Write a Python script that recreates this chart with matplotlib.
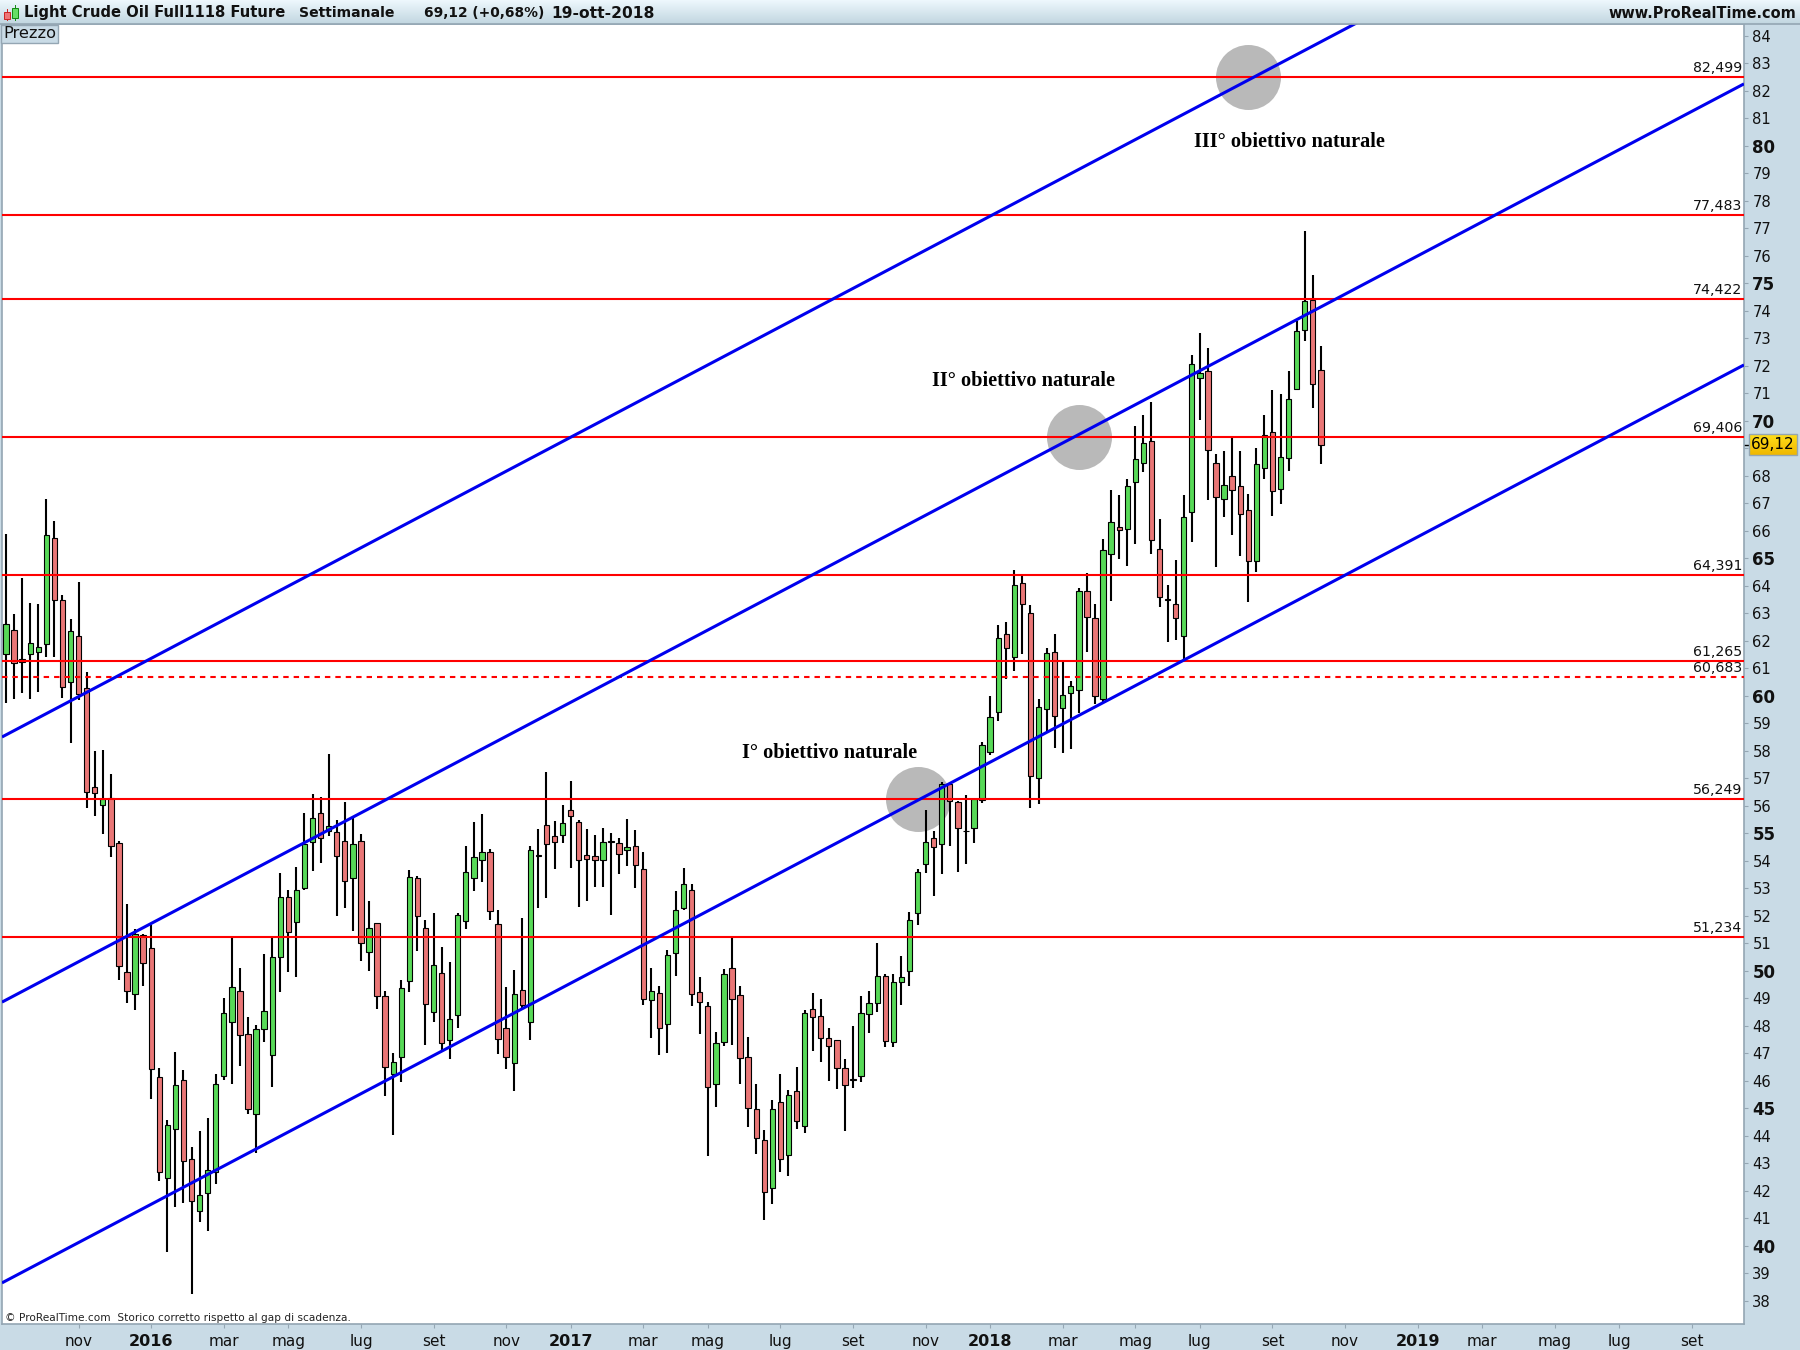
import numpy as np
import matplotlib
matplotlib.use("Agg")
import matplotlib.pyplot as plt
from matplotlib.patches import Rectangle

opens = [61.53,62.38,61.32,61.51,61.58,61.87,65.72,63.47,60.49,62.16,
60.27,56.67,56.02,56.30,54.63,49.94,49.15,51.29,50.84,46.15,
42.45,44.24,46.02,43.16,41.28,41.91,42.67,46.17,48.12,49.25,
47.71,44.78,47.90,46.92,50.49,52.67,51.77,53.02,54.67,55.72,
55.08,55.03,54.71,53.39,54.71,50.67,51.73,49.07,46.23,46.85,
49.62,53.36,51.54,48.49,49.91,47.47,48.38,51.80,53.36,54.02,
54.31,51.69,47.91,46.63,49.29,48.12,54.20,55.29,54.89,54.92,
55.83,55.40,54.20,54.16,54.01,54.71,54.63,54.38,54.52,53.69,
48.92,49.18,48.05,50.63,52.27,52.92,49.22,48.71,45.87,47.40,
50.09,49.11,46.85,44.96,43.83,42.09,45.22,43.29,45.62,44.34,
48.60,48.34,47.54,47.47,46.45,46.05,46.16,48.42,48.82,49.80,
47.40,49.58,49.98,52.09,53.90,54.82,54.60,56.78,56.12,55.10,
55.18,56.21,57.97,59.40,62.23,61.40,64.09,63.00,57.00,59.51,
61.58,59.54,60.09,60.20,63.80,62.82,59.90,65.14,66.12,66.05,
67.76,68.45,69.25,65.32,63.51,63.32,62.16,66.67,71.54,71.80,
68.45,67.14,67.98,67.62,66.74,64.89,68.27,69.58,67.51,68.63,
71.14,73.29,74.38,71.83]

closes = [62.60,61.18,61.22,61.91,61.76,65.83,63.47,60.33,62.34,60.05,
56.49,56.45,56.23,54.52,50.16,49.25,51.35,50.27,46.42,42.67,
44.38,45.83,43.07,41.62,41.83,42.74,45.87,48.45,49.40,47.66,
44.99,47.90,48.52,50.49,52.67,51.40,52.95,54.60,55.55,54.82,
55.25,54.16,53.25,54.60,51.00,51.54,49.07,46.49,46.67,49.36,
53.40,51.98,48.78,50.20,47.36,48.23,52.01,53.58,54.12,54.31,
52.16,47.51,46.85,49.14,48.77,54.38,54.16,54.60,54.67,55.36,
55.62,54.01,54.05,54.01,54.67,54.68,54.23,54.49,53.83,48.96,
49.25,47.91,50.56,52.20,53.14,49.14,48.85,45.76,47.36,49.87,
48.96,46.82,45.00,43.91,41.94,44.96,43.14,45.47,44.52,48.45,
48.31,47.54,47.25,46.45,45.85,46.02,48.45,48.82,49.80,47.43,
49.58,49.76,51.83,53.58,54.67,54.49,56.78,56.17,55.18,55.07,
56.25,58.20,59.22,62.09,61.72,64.02,63.32,57.07,59.58,61.54,
59.25,60.02,60.34,63.80,62.85,59.98,65.29,66.31,66.02,67.62,
68.60,69.18,65.65,63.58,63.47,62.82,66.49,72.05,71.72,68.92,
67.21,67.65,67.47,66.60,64.89,68.42,69.47,67.43,68.67,70.78,
73.25,74.34,71.32,69.12]

highs = [65.88,62.97,64.28,63.37,63.34,67.15,66.35,63.66,62.79,64.14,
60.86,57.99,58.03,57.15,54.71,52.43,51.53,51.34,51.66,46.46,
44.58,47.04,46.39,43.59,44.16,44.65,46.24,49.01,51.21,50.10,
48.32,48.03,50.61,51.21,53.55,52.93,53.77,55.73,56.41,56.32,
57.88,55.48,56.12,55.56,54.97,52.54,51.73,49.25,47.01,49.66,
53.66,53.45,51.85,52.10,50.86,50.32,52.09,54.54,55.41,55.70,
54.43,52.21,49.41,50.03,51.92,54.54,55.15,57.23,55.45,56.03,
56.90,55.47,55.15,54.94,55.18,55.00,54.82,55.52,55.12,54.31,
50.10,49.43,50.74,52.90,53.74,53.15,49.77,48.86,47.77,50.05,
51.20,49.45,47.59,45.88,44.21,45.30,46.25,45.66,46.50,48.57,
49.19,48.97,47.92,47.50,46.79,47.99,49.08,49.26,51.01,49.88,
49.88,50.54,52.14,53.70,55.85,55.08,56.86,56.82,56.17,56.39,
56.28,58.32,59.99,62.57,62.68,64.57,64.35,63.30,59.88,61.74,
62.25,61.23,60.54,63.92,64.46,63.34,65.70,67.48,67.30,67.88,
69.81,70.21,70.68,66.43,64.03,64.94,67.30,72.39,73.19,72.65,
68.79,68.90,69.37,68.90,67.34,69.01,70.21,71.12,70.97,71.81,
73.63,76.90,75.30,72.72]

lows = [59.75,59.89,60.11,59.89,60.15,61.42,61.42,59.93,58.29,59.86,
55.93,55.64,54.96,54.12,49.67,48.81,48.58,49.46,45.32,42.37,
39.76,41.42,41.57,38.23,40.88,40.52,42.26,46.04,45.89,46.52,
44.80,43.39,47.42,45.79,49.24,49.96,49.79,52.92,53.61,53.93,
54.90,52.00,52.29,51.43,50.36,50.00,48.62,45.43,44.04,45.97,
49.24,50.73,47.31,48.15,47.12,46.80,47.93,51.53,52.91,53.24,
51.86,46.98,46.44,45.64,48.57,47.49,52.29,52.66,53.71,54.66,
53.75,52.33,52.55,53.06,53.06,52.04,53.53,53.82,53.02,48.77,
47.57,46.95,47.02,49.82,52.22,48.73,47.71,43.28,45.06,47.28,
47.31,45.89,44.33,43.35,40.95,41.53,42.69,42.55,44.26,44.11,
47.09,46.69,46.00,45.70,44.17,45.74,45.95,47.75,48.51,47.24,
47.24,48.75,49.45,51.68,53.55,52.72,53.52,54.54,53.59,53.88,
54.65,56.09,57.86,59.09,60.62,60.91,61.52,55.93,56.08,58.69,
58.11,57.93,58.08,59.36,61.60,59.70,59.72,63.46,64.99,64.73,
65.53,68.15,65.17,63.24,61.97,62.04,61.30,65.60,70.03,67.13,
64.70,66.51,65.86,65.09,63.40,64.51,67.89,66.55,66.98,68.18,
71.14,72.91,70.48,68.44]

levels = [82.499, 77.483, 74.422, 69.406, 64.391, 61.265, 56.249, 51.234]
level_labels = ["82,499", "77,483", "74,422", "69,406", "64,391", "61,265", "56,249", "51,234"]
dashed_level = 60.683
dashed_label = "60,683"

channel_x = [-0.5, 215.45]
channel_top = [58.50, 91.89]
channel_mid = [48.86, 82.25]
channel_low = [38.65, 72.03]

circle_x = [113.1, 133, 154]
circle_y = [56.249, 69.406, 82.499]

note_text = ["I° obiettivo naturale", "II° obiettivo naturale", "III° obiettivo naturale"]
note_x = [91.2, 114.85, 147.25]
note_y = [57.92, 71.45, 80.15]

x_tick_pos = [9, 18, 27, 35, 44, 53, 62, 70, 79, 87, 96, 105, 114, 122, 131, 140, 148, 157, 166, 175, 183, 192, 200, 209]
x_tick_lab = ["nov", "2016", "mar", "mag", "lug", "set", "nov", "2017", "mar", "mag", "lug", "set", "nov", "2018",
              "mar", "mag", "lug", "set", "nov", "2019", "mar", "mag", "lug", "set"]
y_ticks = list(range(38, 85))

W, H = 1800, 1350
BAND = "#c9dbe6"
EDGE = "#94a6b3"

fig = plt.figure(figsize=(18, 13.5), dpi=100, facecolor=BAND)
L, R, T, B = 2, 1744, 24, 1324
ax = fig.add_axes([L / W, 1 - B / H, (R - L) / W, (B - T) / H], facecolor="white")
ax.set_xlim(-0.496, 215.45)
ax.set_ylim(37.155, 84.427)

# gray target circles
ax.scatter(circle_x, circle_y, s=2190, color="#b9b9b9", linewidths=0, zorder=1)

# candles
x = np.arange(len(opens))
o, c, hi, lo = map(np.array, (opens, closes, highs, lows))
ax.vlines(x, lo, hi, color="black", lw=1.5, zorder=2)
up = c >= o
bottoms = np.minimum(o, c)
heights = np.abs(c - o)
ax.bar(x[up], heights[up], 0.66, bottoms[up], color="#57d957", edgecolor="black", linewidth=0.8, zorder=3)
ax.bar(x[~up], heights[~up], 0.66, bottoms[~up], color="#e97676", edgecolor="black", linewidth=0.8, zorder=3)

# levels and channel
for lv, lb in zip(levels, level_labels):
    ax.axhline(lv, color="#ff0000", lw=1.5, zorder=4)
    ax.annotate(lb, (1, lv), xycoords=("axes fraction", "data"), xytext=(-1, 1.4), textcoords="offset points",
                ha="right", va="bottom", fontsize=10.2, color="#111111", zorder=6)
ax.axhline(dashed_level, color="#ff0000", lw=1.5, linestyle=(0, (2.6, 2.4)), zorder=4)
ax.annotate(dashed_label, (1, dashed_level), xycoords=("axes fraction", "data"), xytext=(-1, 1.4),
            textcoords="offset points", ha="right", va="bottom", fontsize=10.2, color="#111111", zorder=6)
for ys in (channel_top, channel_mid, channel_low):
    ax.plot(channel_x, ys, color="#0000ee", lw=2.2, zorder=5, solid_capstyle="butt")

for s, nx, ny in zip(note_text, note_x, note_y):
    ax.text(nx, ny, s, family="Liberation Serif", fontweight="bold", fontsize=14.6, ha="left", va="center", zorder=6)

ax.text(3 / (R - L), 6 / (B - T), "© ProRealTime.com  Storico corretto rispetto al gap di scadenza.",
        transform=ax.transAxes, fontsize=7.6, ha="left", va="center", color="#222222", zorder=6)

# axes ticks
ax.yaxis.tick_right()
ax.set_yticks(y_ticks)
ax.set_yticklabels(["" if v == 69 else str(v) for v in y_ticks])
for v, t in zip(y_ticks, ax.get_yticklabels()):
    if v % 5 == 0:
        t.set_fontweight("bold")
        t.set_fontsize(12)
    else:
        t.set_fontsize(10.6)
ax.set_xticks(x_tick_pos)
ax.set_xticklabels(x_tick_lab)
for s, t in zip(x_tick_lab, ax.get_xticklabels()):
    if s.isdigit():
        t.set_fontweight("bold")
        t.set_fontsize(11.5)
    else:
        t.set_fontsize(11)
ax.tick_params(axis="y", length=3, width=0.8, color=EDGE, pad=3, labelcolor="#111111")
ax.tick_params(axis="x", length=3, width=0.8, color=EDGE, pad=4, labelcolor="#111111")
for sp in ax.spines.values():
    sp.set_color(EDGE)
    sp.set_linewidth(1.2)

# window chrome in pixel coordinates
ov = fig.add_axes([0, 0, 1, 1], facecolor="none")
ov.axis("off")
grad = np.linspace(0, 1, 24)[:, None, None] * (np.array([0.76, 0.84, 0.88]) - np.array([0.93, 0.97, 0.99])) + np.array([0.93, 0.97, 0.99])
ov.imshow(grad, extent=[0, W, 24, 0], aspect="auto", zorder=1)
ov.plot([0, W], [24, 24], color=EDGE, lw=1.2, zorder=2)

hdr = dict(fontweight="bold", va="center", ha="left", color="#111111", zorder=3)
ov.text(24, 13, "Light Crude Oil Full1118 Future", fontsize=10.65, **hdr)
ov.text(299, 13, "Settimanale", fontsize=10.1, **hdr)
ov.text(424, 13, "69,12 (+0,68%)", fontsize=9.9, **hdr)
ov.text(551, 13, "19-ott-2018", fontsize=11.2, **hdr)
ov.text(1796, 13, "www.ProRealTime.com", fontsize=10.45, **{**hdr, "ha": "right"})

# icon
ov.plot([6.5, 6.5], [9, 20], color="#cc2222", lw=0.7, zorder=3)
ov.add_patch(Rectangle((3.5, 12), 6, 6.5, fc="#ee7777", ec="#cc2222", lw=0.7, zorder=4))
ov.plot([14.5, 14.5], [5, 20], color="#118811", lw=0.7, zorder=3)
ov.add_patch(Rectangle((11.5, 8), 6, 9.5, fc="#66dd66", ec="#118811", lw=0.7, zorder=4))

# Prezzo tag
ov.add_patch(Rectangle((1, 25), 57, 18, fc="#c9dbe6", ec=EDGE, lw=1, zorder=3))
ov.text(3.5, 34, "Prezzo", fontsize=11.6, va="center", ha="left", color="#111111", zorder=4)

# last price tag
ylab = (84.427 - closes[-1]) / (84.427 - 37.155) * (B - T) + T
ov.plot([1745, 1749], [ylab, ylab], color="black", lw=1, zorder=3)
tag = np.linspace(0, 1, 21)[:, None, None] * (np.array([0.94, 0.72, 0.0]) - np.array([1.0, 0.87, 0.1])) + np.array([1.0, 0.87, 0.1])
ov.imshow(tag, extent=[1749, 1797, ylab + 10, ylab - 11], aspect="auto", zorder=3)
ov.add_patch(Rectangle((1749, ylab - 11), 48, 21, fc="none", ec=EDGE, lw=1, zorder=4))
ov.text(1773, ylab, f"{closes[-1]:.2f}".replace(".", ","), fontsize=11, ha="center", va="center", color="black", zorder=5)
ov.set_xlim(0, W)
ov.set_ylim(H, 0)

fig.savefig("out.png", dpi=100, facecolor=fig.get_facecolor())
